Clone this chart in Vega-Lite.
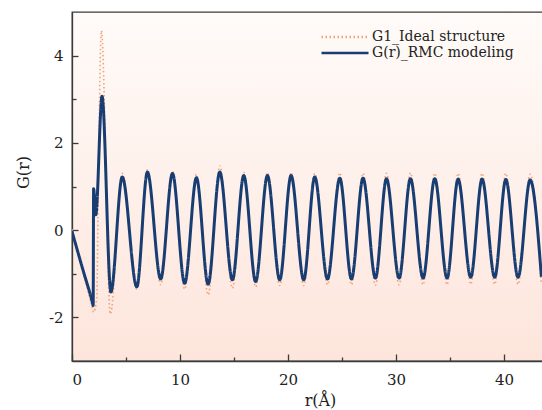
{
  "$schema": "https://vega.github.io/schema/vega-lite/v6.json",
  "autosize": {"type": "none"},
  "padding": {"left": 72, "top": 12, "right": 0, "bottom": 49},
  "width": 471,
  "height": 349,
  "background": "white",
  "config": {
    "font": "DejaVu Serif",
    "view": {
      "stroke": "#3a3a3a",
      "strokeWidth": 1.3,
      "fill": {"gradient": "linear", "x1": 0, "y1": 0, "x2": 0, "y2": 1,
        "stops": [{"offset": 0, "color": "#fffbf9"}, {"offset": 1, "color": "#fde5db"}]}
    },
    "axis": {
      "grid": false,
      "domainColor": "#3a3a3a",
      "domainWidth": 1.3,
      "tickColor": "#3a3a3a",
      "tickWidth": 1.3,
      "labelFont": "DejaVu Serif",
      "labelFontSize": 15,
      "labelColor": "#222222",
      "titleFont": "DejaVu Serif",
      "titleFontSize": 16,
      "titleFontWeight": "normal",
      "titleColor": "#222222"
    }
  },
  "data": {"values": [
    {"s": "G1_Ideal structure", "r": 0, "G": 0.02},
    {"s": "G1_Ideal structure", "r": 1.0, "G": -0.93},
    {"s": "G1_Ideal structure", "r": 1.9, "G": -1.8},
    {"s": "G1_Ideal structure", "r": 1.98, "G": -1.88},
    {"s": "G1_Ideal structure", "r": 2.3, "G": -1.55},
    {"s": "G1_Ideal structure", "r": 2.4, "G": 0.3},
    {"s": "G1_Ideal structure", "r": 2.72, "G": 4.57},
    {"s": "G1_Ideal structure", "r": 3.55, "G": -1.92},
    {"s": "G1_Ideal structure", "r": 4.65, "G": 1.3},
    {"s": "G1_Ideal structure", "r": 6.0, "G": -1.35},
    {"s": "G1_Ideal structure", "r": 6.98, "G": 1.38},
    {"s": "G1_Ideal structure", "r": 8.21, "G": -1.25},
    {"s": "G1_Ideal structure", "r": 9.3, "G": 1.35},
    {"s": "G1_Ideal structure", "r": 10.43, "G": -1.35},
    {"s": "G1_Ideal structure", "r": 11.52, "G": 1.28},
    {"s": "G1_Ideal structure", "r": 12.6, "G": -1.48},
    {"s": "G1_Ideal structure", "r": 13.68, "G": 1.47},
    {"s": "G1_Ideal structure", "r": 14.85, "G": -1.33},
    {"s": "G1_Ideal structure", "r": 15.9, "G": 1.32},
    {"s": "G1_Ideal structure", "r": 17.0, "G": -1.3},
    {"s": "G1_Ideal structure", "r": 18.09, "G": 1.32},
    {"s": "G1_Ideal structure", "r": 19.23, "G": -1.27},
    {"s": "G1_Ideal structure", "r": 20.28, "G": 1.32},
    {"s": "G1_Ideal structure", "r": 21.45, "G": -1.27},
    {"s": "G1_Ideal structure", "r": 22.47, "G": 1.3},
    {"s": "G1_Ideal structure", "r": 23.65, "G": -1.25},
    {"s": "G1_Ideal structure", "r": 24.79, "G": 1.31},
    {"s": "G1_Ideal structure", "r": 25.87, "G": -1.25},
    {"s": "G1_Ideal structure", "r": 26.94, "G": 1.3},
    {"s": "G1_Ideal structure", "r": 28.09, "G": -1.26},
    {"s": "G1_Ideal structure", "r": 29.11, "G": 1.3},
    {"s": "G1_Ideal structure", "r": 30.28, "G": -1.25},
    {"s": "G1_Ideal structure", "r": 31.33, "G": 1.31},
    {"s": "G1_Ideal structure", "r": 32.5, "G": -1.25},
    {"s": "G1_Ideal structure", "r": 33.58, "G": 1.3},
    {"s": "G1_Ideal structure", "r": 34.72, "G": -1.25},
    {"s": "G1_Ideal structure", "r": 35.74, "G": 1.3},
    {"s": "G1_Ideal structure", "r": 36.91, "G": -1.24},
    {"s": "G1_Ideal structure", "r": 37.96, "G": 1.3},
    {"s": "G1_Ideal structure", "r": 39.13, "G": -1.24},
    {"s": "G1_Ideal structure", "r": 40.16, "G": 1.3},
    {"s": "G1_Ideal structure", "r": 41.29, "G": -1.24},
    {"s": "G1_Ideal structure", "r": 42.41, "G": 1.28},
    {"s": "G1_Ideal structure", "r": 43.45, "G": -1.24},
    {"s": "G(r)_RMC modeling", "r": 0, "G": -0.03},
    {"s": "G(r)_RMC modeling", "r": 1.0, "G": -0.9},
    {"s": "G(r)_RMC modeling", "r": 1.9, "G": -1.67},
    {"s": "G(r)_RMC modeling", "r": 1.96, "G": -1.73},
    {"s": "G(r)_RMC modeling", "r": 2.0, "G": 0.95},
    {"s": "G(r)_RMC modeling", "r": 2.2, "G": 0.35},
    {"s": "G(r)_RMC modeling", "r": 2.78, "G": 3.07},
    {"s": "G(r)_RMC modeling", "r": 3.6, "G": -1.42},
    {"s": "G(r)_RMC modeling", "r": 4.65, "G": 1.22},
    {"s": "G(r)_RMC modeling", "r": 6.0, "G": -1.3},
    {"s": "G(r)_RMC modeling", "r": 6.98, "G": 1.33},
    {"s": "G(r)_RMC modeling", "r": 8.21, "G": -1.12},
    {"s": "G(r)_RMC modeling", "r": 9.3, "G": 1.3},
    {"s": "G(r)_RMC modeling", "r": 10.43, "G": -1.22},
    {"s": "G(r)_RMC modeling", "r": 11.52, "G": 1.2},
    {"s": "G(r)_RMC modeling", "r": 12.6, "G": -1.24},
    {"s": "G(r)_RMC modeling", "r": 13.68, "G": 1.33},
    {"s": "G(r)_RMC modeling", "r": 14.85, "G": -1.14},
    {"s": "G(r)_RMC modeling", "r": 15.9, "G": 1.25},
    {"s": "G(r)_RMC modeling", "r": 17.0, "G": -1.18},
    {"s": "G(r)_RMC modeling", "r": 18.09, "G": 1.25},
    {"s": "G(r)_RMC modeling", "r": 19.23, "G": -1.14},
    {"s": "G(r)_RMC modeling", "r": 20.28, "G": 1.25},
    {"s": "G(r)_RMC modeling", "r": 21.45, "G": -1.14},
    {"s": "G(r)_RMC modeling", "r": 22.47, "G": 1.22},
    {"s": "G(r)_RMC modeling", "r": 23.65, "G": -1.12},
    {"s": "G(r)_RMC modeling", "r": 24.79, "G": 1.19},
    {"s": "G(r)_RMC modeling", "r": 25.87, "G": -1.12},
    {"s": "G(r)_RMC modeling", "r": 26.94, "G": 1.19},
    {"s": "G(r)_RMC modeling", "r": 28.09, "G": -1.1},
    {"s": "G(r)_RMC modeling", "r": 29.11, "G": 1.18},
    {"s": "G(r)_RMC modeling", "r": 30.28, "G": -1.1},
    {"s": "G(r)_RMC modeling", "r": 31.33, "G": 1.18},
    {"s": "G(r)_RMC modeling", "r": 32.5, "G": -1.1},
    {"s": "G(r)_RMC modeling", "r": 33.58, "G": 1.18},
    {"s": "G(r)_RMC modeling", "r": 34.72, "G": -1.1},
    {"s": "G(r)_RMC modeling", "r": 35.74, "G": 1.17},
    {"s": "G(r)_RMC modeling", "r": 36.91, "G": -1.08},
    {"s": "G(r)_RMC modeling", "r": 37.96, "G": 1.17},
    {"s": "G(r)_RMC modeling", "r": 39.13, "G": -1.08},
    {"s": "G(r)_RMC modeling", "r": 40.16, "G": 1.16},
    {"s": "G(r)_RMC modeling", "r": 41.29, "G": -1.08},
    {"s": "G(r)_RMC modeling", "r": 42.41, "G": 1.15},
    {"s": "G(r)_RMC modeling", "r": 43.45, "G": -1.07}
  ]},
  "resolve": {"axis": {"x": "independent", "y": "independent"}},
  "layer": [
    {
      "transform": [{"filter": "datum.s === 'G1_Ideal structure'"}],
      "mark": {"type": "line", "interpolate": "monotone", "strokeWidth": 1.6, "clip": true},
      "encoding": {
        "x": {"field": "r", "type": "quantitative", "scale": {"domain": [0, 43.6], "nice": false, "zero": false},
          "axis": {"orient": "bottom", "values": [0, 10, 20, 30, 40], "tickSize": -7, "labelPadding": 18, "title": "r(Å)", "titleX": 248, "titleY": 44, "titleBaseline": "alphabetic"}},
        "y": {"field": "G", "type": "quantitative", "scale": {"domain": [-3, 5], "nice": false, "zero": false},
          "axis": {"orient": "left", "values": [-2, 0, 2, 4], "tickSize": -6, "labelPadding": 15, "labelExpr": "replace(datum.label, '−', '-')", "title": "G(r)", "titleX": -49, "titleY": 160, "titleBaseline": "middle", "titleAngle": -90}},
        "color": {"field": "s", "type": "nominal", "sort": null,
          "scale": {"domain": ["G1_Ideal structure", "G(r)_RMC modeling"], "range": ["#f2a07a", "#173d72"]},
          "legend": {"orient": "none", "legendX": 248, "legendY": 17, "title": null, "padding": 0,
            "symbolType": "stroke", "symbolSize": 2209, "symbolStrokeWidth": 2.5, "clipHeight": 16, "rowPadding": 0,
            "labelFont": "DejaVu Serif", "labelFontSize": 14, "labelColor": "#222222", "labelOffset": 2}},
        "strokeDash": {"field": "s", "type": "nominal", "sort": null,
          "scale": {"domain": ["G1_Ideal structure", "G(r)_RMC modeling"], "range": [[1.5, 2.5], [1, 0]]},
          "legend": {"orient": "none", "legendX": 248, "legendY": 17, "title": null, "padding": 0,
            "symbolType": "stroke", "symbolSize": 2209, "symbolStrokeWidth": 2.5, "clipHeight": 16, "rowPadding": 0,
            "labelFont": "DejaVu Serif", "labelFontSize": 14, "labelColor": "#222222", "labelOffset": 2}}
      }
    },
    {
      "transform": [{"filter": "datum.s === 'G(r)_RMC modeling'"}],
      "mark": {"type": "line", "interpolate": "monotone", "strokeWidth": 3, "clip": true},
      "encoding": {
        "x": {"field": "r", "type": "quantitative",
          "axis": {"orient": "bottom", "values": [5, 15, 25, 35], "tickSize": -4, "labels": false, "domain": false, "title": null}},
        "y": {"field": "G", "type": "quantitative",
          "axis": {"orient": "left", "values": [-1, 1, 3], "tickSize": -4, "labels": false, "domain": false, "title": null}},
        "color": {"field": "s", "type": "nominal", "sort": null},
        "strokeDash": {"field": "s", "type": "nominal", "sort": null}
      }
    }
  ]
}
